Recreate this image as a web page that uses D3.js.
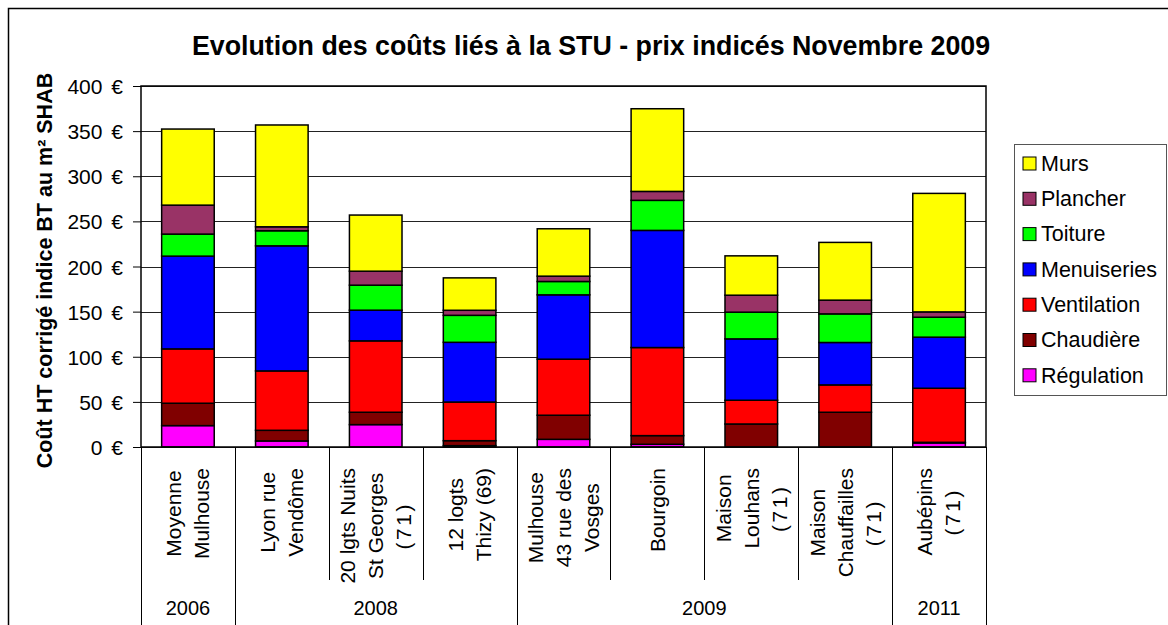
<!DOCTYPE html>
<html>
<head>
<meta charset="utf-8">
<script src="https://cdn.jsdelivr.net/npm/d3@7"></script>
<style>
  body { margin: 0; background: #ffffff; }
  text { font-family: "Liberation Sans", Arial, sans-serif; fill: #000; }
</style>
</head>
<body>
<div id="chart"></div>
<script>
// categories (each label split in lines as in the chart)
const categories = [
    ["Moyenne", "Mulhouse"],
    ["Lyon rue", "Vendôme"],
    ["20 lgts Nuits", "St Georges", "(71)"],
    ["12 logts", "Thizy (69)"],
    ["Mulhouse", "43 rue des", "Vosges"],
    ["Bourgoin"],
    ["Maison", "Louhans", "(71)"],
    ["Maison", "Chauffailles", "(71)"],
    ["Aubépins", "(71)"]
];
const years = ["2006", "2008", "2009", "2011"];
const yearSpans = [1, 3, 4, 1];

// series values (€ / m²), bottom to top
const regulation = [23.7, 6.7, 24.8, 1.5, 8.5, 3, 0, 0, 4.5];
const chaudiere = [24.8, 11.8, 13.7, 5.5, 26.7, 9.6, 25.5, 38.5, 0.7];
const ventilation = [60.2, 65.8, 79.1, 42.8, 62.1, 97.6, 26.3, 30.3, 59.9];
const menuiseries = [102.8, 138.6, 34, 66.2, 71.3, 129.8, 68, 47, 56.6];
const toiture = [24.4, 16.7, 27.7, 29.9, 14.8, 33.3, 29.6, 31.7, 22.1];
const plancher = [32.1, 4.4, 15.5, 5.6, 5.9, 9.9, 18.8, 15.2, 5.9];
const murs = [84.3, 112.8, 62.2, 35.9, 52.5, 91.6, 43.6, 64, 131.3];

const seriesNames = ["Régulation", "Chaudière", "Ventilation", "Menuiseries", "Toiture", "Plancher", "Murs"];
const seriesValues = [regulation, chaudiere, ventilation, menuiseries, toiture, plancher, murs];
const seriesColors = ["#ff00ff", "#800000", "#ff0000", "#0000ff", "#00ff00", "#993366", "#ffff00"];

const yTicks = [0, 50, 100, 150, 200, 250, 300, 350, 400];

const dimensions = {
    width: 1168,
    height: 625,
    plot: { left: 141, right: 986, top: 86, bottom: 447 }
};

const keys = categories.map((d, i) => "c" + i);
const table = keys.map((k, i) => {
    const row = { key: k };
    seriesNames.forEach((s, j) => row[s] = seriesValues[j][i]);
    return row;
});
const stacked = d3.stack().keys(seriesNames)(table);

const x = d3.scaleBand()
    .domain(keys)
    .range([dimensions.plot.left, dimensions.plot.right])
    .paddingInner(0.44)
    .paddingOuter(0.22);
const y = d3.scaleLinear()
    .domain([0, 400])
    .range([dimensions.plot.bottom, dimensions.plot.top]);
const color = d3.scaleOrdinal().domain(seriesNames).range(seriesColors);

const svg = d3.select("#chart")
    .append("svg")
    .attr("width", dimensions.width)
    .attr("height", dimensions.height);

//outer chart border (runs off the bottom and right of the picture)
svg.append("rect")
    .attr("x", 8.5).attr("y", 8.5)
    .attr("width", 1200).attr("height", 700)
    .attr("fill", "#fff")
    .attr("stroke", "#000")
    .attr("stroke-width", 1.5);

//title
svg.append("text")
    .attr("x", 591).attr("y", 55)
    .attr("text-anchor", "middle")
    .style("font-size", "26.8px")
    .style("font-weight", "bold")
    .text("Evolution des coûts liés à la STU - prix indicés Novembre 2009");

//y axis title
svg.append("text")
    .attr("transform", `translate(52, ${(dimensions.plot.top + dimensions.plot.bottom) / 2 + 4}) rotate(-90)`)
    .attr("text-anchor", "middle")
    .style("font-size", "21.5px")
    .style("font-weight", "bold")
    .text("Coût HT corrigé indice BT au m² SHAB");

//gridlines
svg.append("g")
    .selectAll("line")
    .data(yTicks)
    .join("line")
    .attr("x1", dimensions.plot.left).attr("x2", dimensions.plot.right)
    .attr("y1", d => Math.round(y(d)) + 0.5).attr("y2", d => Math.round(y(d)) + 0.5)
    .attr("stroke", "#222")
    .attr("stroke-width", 1.2);

//y axis
const yAxis = svg.append("g")
    .attr("transform", `translate(${dimensions.plot.left},0)`)
    .call(d3.axisLeft(y).tickValues(yTicks).tickSize(8).tickPadding(10).tickFormat(d => d + " €"));
yAxis.select(".domain").remove();
yAxis.selectAll(".tick line").attr("stroke", "#000");
yAxis.selectAll(".tick text")
    .style("font-size", "21px")
    .style("font-family", "'Liberation Sans', Arial, sans-serif")
    .style("word-spacing", "3px")
    .attr("dy", "0.36em");

//bars
svg.append("g")
    .selectAll("g")
    .data(stacked)
    .join("g")
    .attr("fill", d => color(d.key))
    .selectAll("rect")
    .data(d => d)
    .join("rect")
    .attr("x", d => x(d.data.key))
    .attr("width", x.bandwidth())
    .attr("y", d => y(d[1]))
    .attr("height", d => y(d[0]) - y(d[1]))
    .attr("stroke", "#000")
    .attr("stroke-width", 1.5);

//plot frame
svg.append("rect")
    .attr("x", dimensions.plot.left).attr("y", dimensions.plot.top)
    .attr("width", dimensions.plot.right - dimensions.plot.left)
    .attr("height", dimensions.plot.bottom - dimensions.plot.top)
    .attr("fill", "none")
    .attr("stroke", "#000")
    .attr("stroke-width", 1.5);

//category separators and labels
const step = x.step();
const catBottom = 580;
const yearBottom = 640;
let groupEdges = [0];
yearSpans.reduce((acc, s) => { groupEdges.push(acc + s); return acc + s; }, 0);

const sepIdx = d3.range(0, keys.length + 1);
svg.append("g")
    .selectAll("line")
    .data(sepIdx)
    .join("line")
    .attr("x1", i => Math.round(dimensions.plot.left + i * step) + 0.5)
    .attr("x2", i => Math.round(dimensions.plot.left + i * step) + 0.5)
    .attr("y1", dimensions.plot.bottom)
    .attr("y2", i => groupEdges.includes(i) ? yearBottom : catBottom)
    .attr("stroke", "#000")
    .attr("stroke-width", 1);

const lineGap = 28;
const catLabels = svg.append("g")
    .selectAll("g")
    .data(categories)
    .join("g")
    .attr("transform", (d, i) => `translate(${x(keys[i]) + x.bandwidth() / 2}, 468) rotate(-90)`);
catLabels.each(function (lines) {
    const g = d3.select(this);
    const txt = g.selectAll("text")
        .data(lines)
        .join("text")
        .attr("y", (d, j) => (j - (lines.length - 1) / 2) * lineGap)
        .attr("dy", "0.35em")
        .attr("text-anchor", "middle")
        .style("font-size", "21px")
        //the "(71)" lines are spread out in the original
        .style("letter-spacing", d => d == "(71)" ? "2.5px" : null)
        .text(d => d);
    const maxLen = d3.max(txt.nodes(), n => n.getComputedTextLength());
    txt.attr("x", -maxLen / 2);
});

//year labels
svg.append("g")
    .selectAll("text")
    .data(years)
    .join("text")
    .attr("x", (d, i) => dimensions.plot.left + (groupEdges[i] + groupEdges[i + 1]) / 2 * step)
    .attr("y", 615)
    .attr("text-anchor", "middle")
    .style("font-size", "20px")
    .text(d => d);

//legend
const legend = svg.append("g")
    .attr("transform", "translate(1014, 144)");
legend.append("rect")
    .attr("x", 0.5).attr("y", 0.5)
    .attr("width", 152).attr("height", 251)
    .attr("fill", "#fff")
    .attr("stroke", "#555")
    .attr("stroke-width", 1);
const legendItems = legend.selectAll("g")
    .data(seriesNames.slice().reverse())
    .join("g")
    .attr("transform", (d, i) => `translate(9, ${19 + i * 35.3})`);
legendItems.append("rect")
    .attr("x", 0).attr("y", -6)
    .attr("width", 13).attr("height", 13)
    .attr("fill", d => color(d))
    .attr("stroke", "#000")
    .attr("stroke-width", 1);
legendItems.append("text")
    .attr("x", 18)
    .attr("dy", "0.36em")
    .style("font-size", "21.5px")
    .text(d => d);
</script>
</body>
</html>
